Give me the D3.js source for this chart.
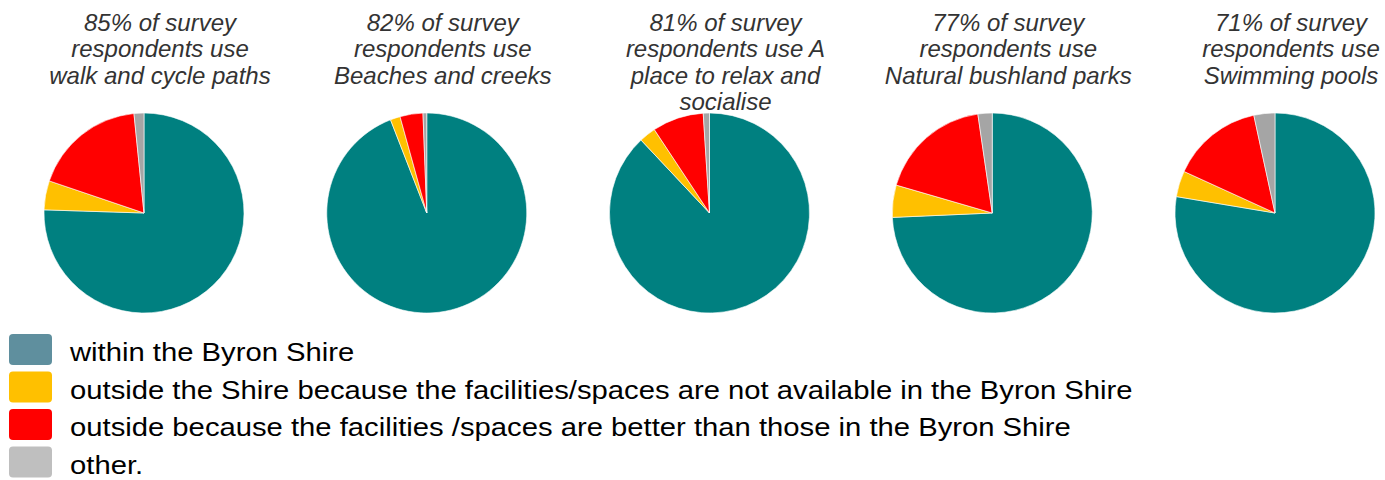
<!DOCTYPE html>
<html>
<head>
<meta charset="utf-8">
<script src="https://cdn.jsdelivr.net/npm/d3@7"></script>
<style>
  html, body { margin: 0; padding: 0; background: #fff; }
  svg { display: block; font-family: "Liberation Sans", Arial, sans-serif; }
</style>
</head>
<body>
<svg id="chart" width="1385" height="480"></svg>
<script>
// Where respondents use each kind of facility (% of users of that facility)
const categories = [
  "within the Byron Shire",
  "outside the Shire because the facilities/spaces are not available in the Byron Shire",
  "outside because the facilities /spaces are better than those in the Byron Shire",
  "other."
];
const facilities = ["walk and cycle paths", "Beaches and creeks", "A place to relax and socialise", "Natural bushland parks", "Swimming pools"];
const usageShare = [85, 82, 81, 77, 71];
const withinShire = [75.5, 94.1, 88.0, 74.3, 77.7];
const notAvailable = [4.7, 1.6, 2.7, 5.2, 4.2];
const betterOutside = [18.2, 3.7, 8.3, 18.2, 14.8];
const otherReason = [1.6, 0.6, 1.0, 2.3, 3.4];
// Title lines following the "NN% of survey" line
const titleTails = [
  ["respondents use", "walk and cycle paths"],
  ["respondents use", "Beaches and creeks"],
  ["respondents use A", "place to relax and", "socialise"],
  ["respondents use", "Natural bushland parks"],
  ["respondents use", "Swimming pools"]
];

const pieColors = ["#008080", "#FFC000", "#FF0000", "#A5A5A5"];
const legendColors = ["#5F8F9E", "#FFC000", "#FF0000", "#BFBFBF"];

const svg = d3.select("#chart");
const radius = 100;
const cy = 213;

const x = d3.scalePoint()
  .domain(d3.range(facilities.length))
  .range([144, 1275]);

const pie = d3.pie().sort(null).value(d => d.value);
const arc = d3.arc().innerRadius(0).outerRadius(radius);

facilities.forEach((name, i) => {
  const values = [withinShire[i], notAvailable[i], betterOutside[i], otherReason[i]]
    .map((v, k) => ({ key: k, value: v }));
  const g = svg.append("g").attr("transform", `translate(${x(i)},${cy})`);
  g.selectAll("path")
    .data(pie(values))
    .join("path")
    .attr("d", arc)
    .attr("fill", d => pieColors[d.data.key])
    .attr("stroke", "#fff")
    .attr("stroke-width", 0.6);

  const lines = [`${usageShare[i]}% of survey`, ...titleTails[i]];
  const t = svg.append("text")
    .attr("x", x(i) + 16)
    .attr("y", 31)
    .attr("text-anchor", "middle")
    .attr("font-size", 24)
    .attr("font-style", "italic")
    .attr("fill", "#333");
  lines.forEach((ln, j) => {
    t.append("tspan")
      .attr("x", x(i) + 16)
      .attr("dy", j === 0 ? 0 : 26.3)
      .text(ln);
  });
});

// Legend
const ly = d3.scaleLinear().domain([0, 1]).range([334, 371.5]);
const legend = svg.append("g");
categories.forEach((c, k) => {
  legend.append("rect")
    .attr("x", 9)
    .attr("y", ly(k))
    .attr("width", 43)
    .attr("height", 31)
    .attr("rx", 4)
    .attr("fill", legendColors[k]);
  legend.append("text")
    .attr("x", 0)
    .attr("y", 0)
    .attr("transform", `translate(70,${ly(k) + 27}) scale(1.17,1)`)
    .attr("font-size", 25)
    .attr("fill", "#000")
    .text(c);
});
</script>
</body>
</html>
